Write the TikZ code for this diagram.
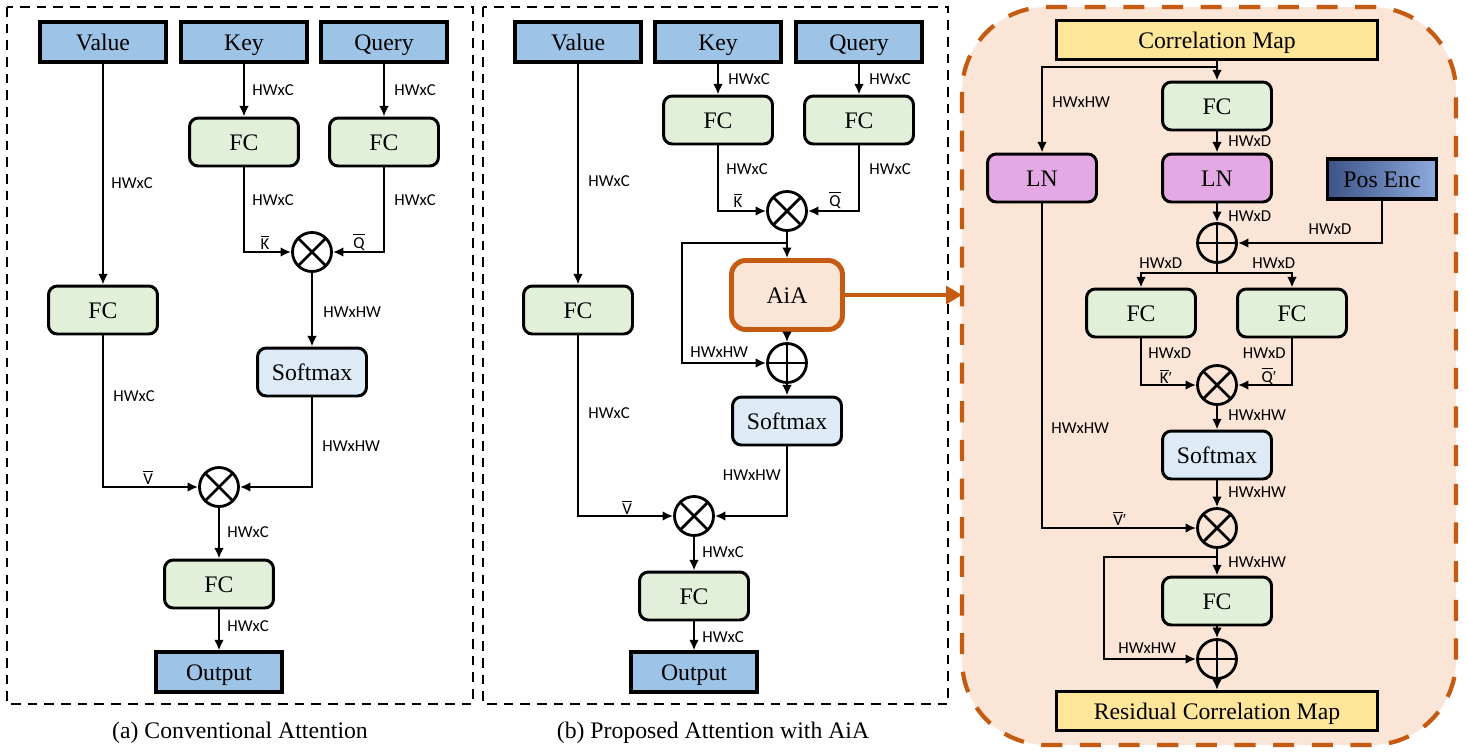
\documentclass[tikz,border=0pt]{standalone}
\usepackage{fontspec}
\setmainfont{Liberation Serif}
\newfontfamily\labfont{Carlito}
\usetikzlibrary{arrows.meta}

\definecolor{inblue}{HTML}{9DC3E6}
\definecolor{fcgreen}{HTML}{E2F0D9}
\definecolor{smblue}{HTML}{DEEBF7}
\definecolor{aiafill}{HTML}{FBE5D6}
\definecolor{aiaedge}{HTML}{C55A11}
\definecolor{mapyellow}{HTML}{FFE699}
\definecolor{lnpink}{HTML}{E4A9E4}
\definecolor{pedark}{HTML}{3C5387}
\definecolor{pelight}{HTML}{8FAADC}

\newcommand{\prm}{{\rmfamily ′}}

\tikzset{
  txt/.style={font=\fontsize{13.5}{16}\selectfont},
  boxtxt/.style={txt, text height=10pt, text depth=0pt},
  lab/.style={font=\labfont\fontsize{9.5}{11}\selectfont, inner sep=0},
  inbox/.style={boxtxt, draw, line width=1.8pt, fill=inblue, minimum width=2.52cm, minimum height=0.8cm, inner sep=0},
  fcbox/.style={boxtxt, draw, line width=1.7pt, rounded corners=5pt, fill=fcgreen, minimum width=2.18cm, minimum height=0.96cm, inner sep=0},
  smbox/.style={fcbox, fill=smblue},
  lnbox/.style={fcbox, fill=lnpink},
  pebox/.style={boxtxt, draw, line width=1.8pt, left color=pedark, right color=pelight, minimum width=2.18cm, minimum height=0.8cm, inner sep=0},
  mapbox/.style={boxtxt, draw, line width=1.8pt, fill=mapyellow, minimum width=6.42cm, minimum height=0.78cm, inner sep=0},
  aiabox/.style={boxtxt, draw=aiaedge, line width=2.8pt, rounded corners=8pt, fill=aiafill, minimum width=2.22cm, minimum height=1.38cm, inner sep=0},
  mul/.style={circle, draw, line width=1.6pt, minimum size=0.78cm, inner sep=0,
    path picture={\draw[line width=1.6pt] (path picture bounding box.north west) -- (path picture bounding box.south east)
      (path picture bounding box.north east) -- (path picture bounding box.south west);}},
  add/.style={circle, draw, line width=1.6pt, minimum size=0.78cm, inner sep=0,
    path picture={\draw[line width=1.6pt] (path picture bounding box.north) -- (path picture bounding box.south)
      (path picture bounding box.east) -- (path picture bounding box.west);}},
  line/.style={line width=1.4pt},
  arr/.style={line, -{Latex[length=6pt,width=5.5pt]}},
  bigarr/.style={draw=aiaedge, line width=2.8pt, -{Triangle[length=9pt,width=10pt]}},
  panel/.style={draw, line width=1.6pt, dash pattern=on 5.5pt off 4pt},
  aiapanel/.style={draw=aiaedge, fill=aiafill, line width=2.4pt, dash pattern=on 12pt off 10pt, rounded corners=1.7cm}
}

\begin{document}
\begin{tikzpicture}[x=0.02cm, y=-0.02cm]
    \useasboundingbox (0,0) rectangle (1467,754);
    \draw[panel] (7,7) rectangle (473,704);
    \draw[panel] (483,7) rectangle (948,704);
    \draw[aiapanel] (962,7) rectangle (1456,745);

    % (a) conventional attention
    \node[inbox] (va) at (103,42) {Value};
    \node[inbox] (ka) at (244,42) {Key};
    \node[inbox] (qa) at (384,42) {Query};
    \node[fcbox] (fcka) at (244,142) {FC};
    \node[fcbox] (fcqa) at (384,142) {FC};
    \node[fcbox] (fcva) at (103,310) {FC};
    \node[mul] (mula) at (312,252) {};
    \node[smbox] (sma) at (312,372) {Softmax};
    \node[mul] (mulva) at (219,487) {};
    \node[fcbox] (fcoa) at (219,584) {FC};
    \node[inbox] (outa) at (219,672) {Output};
    \node[txt] (capa) at (240,733) {(a) Conventional Attention};

    \draw[arr] (ka) -- (fcka);
    \draw[arr] (qa) -- (fcqa);
    \draw[arr] (va) -- (fcva);
    \draw[arr] (fcka) |- (mula);
    \draw[arr] (fcqa) |- (mula);
    \draw[arr] (mula) -- (sma);
    \draw[arr] (fcva) |- (mulva);
    \draw[arr] (sma) |- (mulva);
    \draw[arr] (mulva) -- (fcoa);
    \draw[arr] (fcoa) -- (outa);

    \node[lab, anchor=west] (la1) at (252,90) {HWxC};
    \node[lab, anchor=west] (la2) at (394,90) {HWxC};
    \node[lab, anchor=west] (la3) at (111,183) {HWxC};
    \node[lab, anchor=west] (la4) at (252,200) {HWxC};
    \node[lab, anchor=west] (la5) at (394,200) {HWxC};
    \node[lab] (la6) at (265,242) {$\overline{\hbox{K}}$};
    \node[lab] (la7) at (359,242) {$\overline{\hbox{Q}}$};
    \node[lab, anchor=west] (la8) at (323,312) {HWxHW};
    \node[lab, anchor=west] (la9) at (113,396) {HWxC};
    \node[lab, anchor=west] (la10) at (322,446) {HWxHW};
    \node[lab] (la11) at (148,477) {$\overline{\hbox{V}}$};
    \node[lab, anchor=west] (la12) at (227,532) {HWxC};
    \node[lab, anchor=west] (la13) at (227,626) {HWxC};

    % (b) proposed attention with AiA
    \node[inbox] (vb) at (578,42) {Value};
    \node[inbox] (kb) at (718,42) {Key};
    \node[inbox] (qb) at (859,42) {Query};
    \node[fcbox] (fckb) at (718,120) {FC};
    \node[fcbox] (fcqb) at (859,120) {FC};
    \node[fcbox] (fcvb) at (578,310) {FC};
    \node[mul] (mulb) at (787,211) {};
    \node[aiabox] (aia) at (787,295) {AiA};
    \node[add] (addb) at (787,363) {};
    \node[smbox] (smb) at (787,421) {Softmax};
    \node[mul] (mulvb) at (694,516) {};
    \node[fcbox] (fcob) at (694,596) {FC};
    \node[inbox] (outb) at (694,672) {Output};
    \node[txt] (capb) at (713,733) {(b) Proposed Attention with AiA};
    \coordinate (brb) at (787,243);
    \coordinate (skipb) at (682,243);
    \coordinate (aiatip) at (962,295);

    \draw[arr] (kb) -- (fckb);
    \draw[arr] (qb) -- (fcqb);
    \draw[arr] (vb) -- (fcvb);
    \draw[arr] (fckb) |- (mulb);
    \draw[arr] (fcqb) |- (mulb);
    \draw[arr] (mulb) -- (aia);
    \draw[arr] (brb) -- (skipb) |- (addb);
    \draw[arr] (aia) -- (addb);
    \draw[arr] (addb) -- (smb);
    \draw[arr] (fcvb) |- (mulvb);
    \draw[arr] (smb) |- (mulvb);
    \draw[arr] (mulvb) -- (fcob);
    \draw[arr] (fcob) -- (outb);
    \draw[bigarr] (aia) -- (aiatip);

    \node[lab, anchor=west] (lb1) at (728,79) {HWxC};
    \node[lab, anchor=west] (lb2) at (869,79) {HWxC};
    \node[lab, anchor=west] (lb3) at (588,181) {HWxC};
    \node[lab, anchor=west] (lb4) at (726,169) {HWxC};
    \node[lab, anchor=west] (lb5) at (869,169) {HWxC};
    \node[lab] (lb6) at (738,200) {$\overline{\hbox{K}}$};
    \node[lab] (lb7) at (835,200) {$\overline{\hbox{Q}}$};
    \node[lab, anchor=west] (lb8) at (690,352) {HWxHW};
    \node[lab, anchor=west] (lb9) at (588,413) {HWxC};
    \node[lab, anchor=east] (lb10) at (781,475) {HWxHW};
    \node[lab] (lb11) at (627,507) {$\overline{\hbox{V}}$};
    \node[lab, anchor=west] (lb12) at (702,552) {HWxC};
    \node[lab, anchor=west] (lb13) at (702,637) {HWxC};

    % AiA module
    \node[mapbox] (cm) at (1217,40) {Correlation Map};
    \node[fcbox] (fcc1) at (1217,106) {FC};
    \node[lnbox] (ln1) at (1042,178) {LN};
    \node[lnbox] (ln2) at (1217,178) {LN};
    \node[pebox] (pe) at (1382,179) {Pos Enc};
    \node[add] (addc) at (1217,243) {};
    \node[fcbox] (fcc2) at (1141,313) {FC};
    \node[fcbox] (fcc3) at (1292,313) {FC};
    \node[mul] (mulc) at (1217,385) {};
    \node[smbox] (smc) at (1217,455) {Softmax};
    \node[mul] (mulvc) at (1217,528) {};
    \node[fcbox] (fcc4) at (1217,601) {FC};
    \node[add] (addc2) at (1217,659) {};
    \node[mapbox] (rcm) at (1217,711) {Residual Correlation Map};
    \coordinate (brc) at (1217,67);
    \coordinate (brd) at (1217,273);
    \coordinate (bre) at (1217,557);
    \coordinate (skipe) at (1104,557);

    \draw[arr] (cm) -- (fcc1);
    \draw[arr] (brc) -| (ln1);
    \draw[arr] (fcc1) -- (ln2);
    \draw[arr] (ln2) -- (addc);
    \draw[arr] (pe) |- (addc);
    \draw[line] (addc) -- (brd);
    \draw[arr] (brd) -| (fcc2);
    \draw[arr] (brd) -| (fcc3);
    \draw[arr] (fcc2) |- (mulc);
    \draw[arr] (fcc3) |- (mulc);
    \draw[arr] (mulc) -- (smc);
    \draw[arr] (smc) -- (mulvc);
    \draw[arr] (ln1) |- (mulvc);
    \draw[arr] (mulvc) -- (fcc4);
    \draw[arr] (bre) -- (skipe) |- (addc2);
    \draw[arr] (fcc4) -- (addc2);
    \draw[arr] (addc2) -- (rcm);

    \node[lab, anchor=west] (lc1) at (1052,102) {HWxHW};
    \node[lab, anchor=west] (lc2) at (1228,141) {HWxD};
    \node[lab, anchor=west] (lc3) at (1228,216) {HWxD};
    \node[lab] (lc4) at (1330,229) {HWxD};
    \node[lab, anchor=west] (lc5) at (1139,263) {HWxD};
    \node[lab, anchor=west] (lc6) at (1252,263) {HWxD};
    \node[lab, anchor=west] (lc7) at (1148,353) {HWxD};
    \node[lab, anchor=east] (lc8) at (1286,353) {HWxD};
    \node[lab] (lc9) at (1166,376) {$\overline{\hbox{K}}$\prm};
    \node[lab] (lc10) at (1269,376) {$\overline{\hbox{Q}}$\prm};
    \node[lab, anchor=west] (lc11) at (1228,415) {HWxHW};
    \node[lab, anchor=west] (lc12) at (1051,428) {HWxHW};
    \node[lab, anchor=west] (lc13) at (1228,492) {HWxHW};
    \node[lab] (lc14) at (1120,518) {$\overline{\hbox{V}}$\prm};
    \node[lab, anchor=west] (lc15) at (1228,562) {HWxHW};
    \node[lab, anchor=west] (lc16) at (1118,648) {HWxHW};
\end{tikzpicture}
\end{document}
